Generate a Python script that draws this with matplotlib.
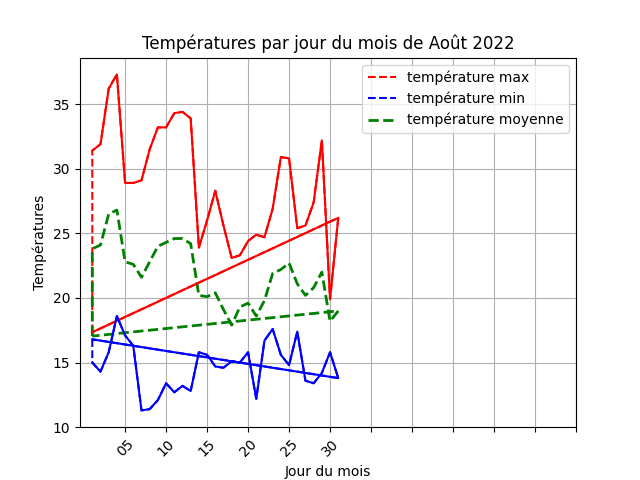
import numpy as np
import matplotlib
matplotlib.use('Agg')
import matplotlib.pyplot as plt

# jours du mois d'aout 2022
jours = list(range(1, 32))

temp_max = [31.4, 31.9, 36.2, 37.3, 28.9, 28.9, 29.1, 31.5, 33.2, 33.2,
            34.3, 34.4, 33.9, 23.9, 26.0, 28.3, 25.6, 23.1, 23.3, 24.4,
            24.9, 24.7, 26.9, 30.9, 30.8, 25.4, 25.6, 27.4, 32.2, 19.9, 26.2]
temp_min = [15.0, 14.3, 15.8, 18.6, 17.1, 16.3, 11.3, 11.4, 12.1, 13.4,
            12.7, 13.2, 12.8, 15.8, 15.6, 14.7, 14.6, 15.1, 15.0, 15.8,
            12.2, 16.7, 17.6, 15.6, 14.8, 17.4, 13.6, 13.4, 14.2, 15.8, 13.8]
temp_moy = [23.8, 24.1, 26.5, 26.8, 22.8, 22.6, 21.6, 22.8, 24.0, 24.3,
            24.6, 24.6, 24.2, 20.2, 20.1, 20.4, 19.1, 17.9, 19.3, 19.6,
            18.6, 19.8, 21.9, 22.2, 22.7, 21.1, 20.2, 20.8, 22.0, 18.2, 19.0]

# premiere ligne du fichier (jour 01 en double)
debut_max = 17.35
debut_min = 16.8
debut_moy = 17.05

tick_pos = list(range(5, 61, 5))
tick_labels = ['05', '10', '15', '20', '25', '30', '', '', '', '', '', '']


def boucle(debut, valeurs):
	x = [1] + jours + [1]
	y = [debut] + valeurs + [debut]
	return x, y


def main():
	plt.figure(figsize=(6.4, 4.8), dpi=100)

	x, y = boucle(debut_max, temp_max)
	plt.plot(x, y, 'r--', label='température max')
	x, y = boucle(debut_min, temp_min)
	plt.plot(x, y, 'b--', label='température min')
	x, y = boucle(debut_moy, temp_moy)
	plt.plot(x, y, 'g--', linewidth=2, label='température moyenne')

	# les courbes max et min apparaissent en trait plein
	plt.plot(jours + [1], temp_max + [debut_max], 'r-')
	plt.plot(jours + [1], temp_min + [debut_min], 'b-')

	plt.xticks(tick_pos, tick_labels, rotation=45)
	plt.xlim(-0.5, 60)
	plt.grid(True)
	plt.title('Températures par jour du mois de Août 2022')
	plt.xlabel('Jour du mois')
	plt.ylabel('Températures')
	plt.legend(loc='upper right')
	plt.savefig('out.png')


if __name__ == "__main__":
	main()
